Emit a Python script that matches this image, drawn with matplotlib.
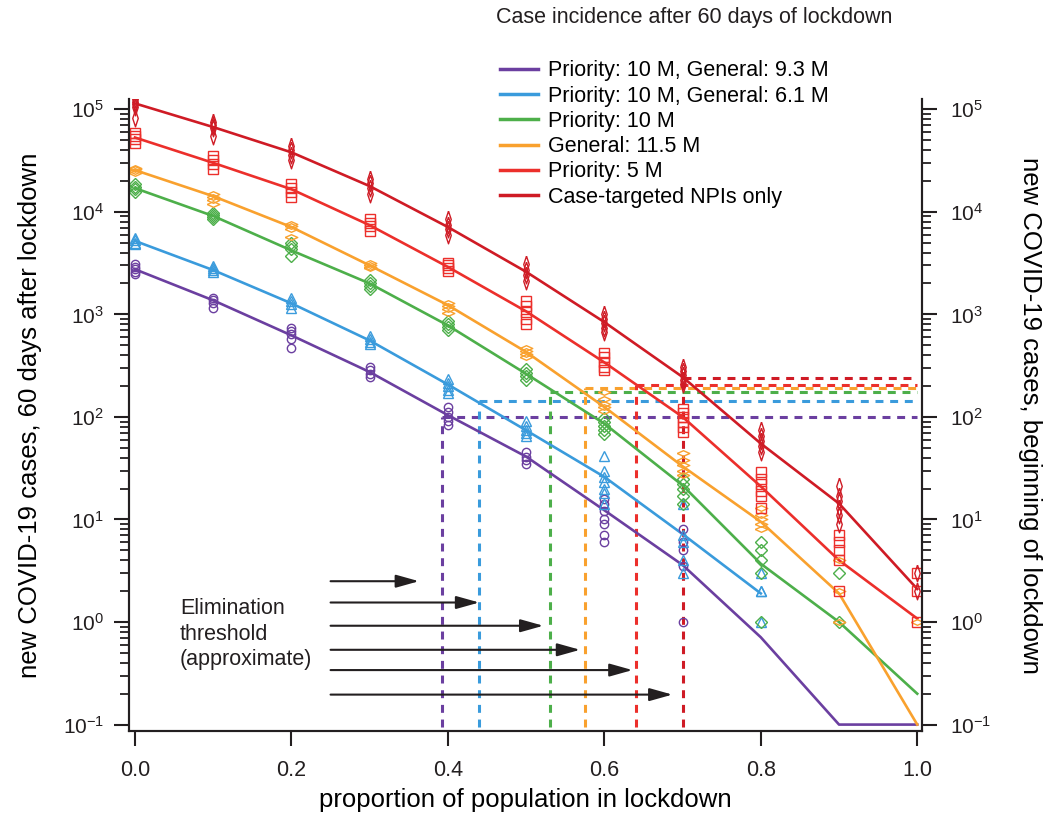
import numpy as np
import matplotlib
matplotlib.use("Agg")
import matplotlib.pyplot as plt
from matplotlib.lines import Line2D
from matplotlib.ticker import NullFormatter, FixedLocator

plt.rcParams["font.family"] = ["Liberation Sans", "DejaVu Sans"]
plt.rcParams["mathtext.fontset"] = "custom"
plt.rcParams["mathtext.rm"] = "Liberation Sans"
plt.rcParams["mathtext.it"] = "Liberation Sans:italic"
plt.rcParams["mathtext.bf"] = "Liberation Sans:bold"

# x positions (proportion in lockdown)
prop = [0.0, 0.1, 0.2, 0.3, 0.4, 0.5, 0.6, 0.7, 0.8, 0.9, 1.0]

labels = ["Priority: 10 M, General: 9.3 M", "Priority: 10 M, General: 6.1 M",
          "Priority: 10 M", "General: 11.5 M", "Priority: 5 M",
          "Case-targeted NPIs only"]

ytick_vals = [0.1, 1, 10, 100, 1000, 10000, 100000]
ytick_text = ["$10^{-1}$", "$10^{0}$", "$10^{1}$", "$10^{2}$", "$10^{3}$",
              "$10^{4}$", "$10^{5}$"]

# mean lines
purple_line = [2750, 1370, 624, 274, 104, 41, 12.3, 3.6, 0.71, 0.1, 0.1]
blue_line = [5200, 2700, 1280, 556, 207, 74, 26, 7.2, 1.9]
green_line = [17000, 9100, 4200, 2000, 780, 263, 86, 21.5, 3.7, 1.0, 0.2]
orange_line = [25500, 14200, 7100, 3000, 1230, 430, 125, 33, 9.5, 1.9, 0.1]
red_line = [53000, 30000, 16600, 7400, 2900, 1070, 340, 100, 21, 4.0, 1.08]
darkred_line = [114000, 67000, 38000, 17800, 7100, 2600, 840, 245, 55, 14.3, 2.1]

# individual runs at each proportion
purple_pts = [[3100, 2900, 2750, 2600, 2450], [1450, 1370, 1300, 1160],
              [740, 690, 640, 580, 470], [310, 285, 265, 245],
              [125, 112, 100, 92, 84], [45, 41, 38, 35],
              [16, 14, 12, 10, 9, 7, 6], [8, 6, 5, 3.5, 1], [], [], []]
blue_pts = [[5600, 5300, 5000, 4800], [2950, 2800, 2700, 2600],
            [1450, 1350, 1250, 1150], [610, 570, 540, 510],
            [235, 215, 200, 185, 170], [92, 82, 75, 70, 65],
            [42, 30, 26, 23, 20, 18, 14], [14, 7, 6, 4, 3], [3, 2, 2, 1], [], []]
green_pts = [[18500, 17500, 16500, 15500], [9800, 9300, 8800, 8500],
             [5000, 4600, 4300, 3700], [2150, 2000, 1900, 1750],
             [860, 800, 750, 700], [290, 270, 250, 230],
             [98, 90, 82, 75, 68], [25, 22, 20, 17, 14], [6, 5, 4, 3, 1],
             [3, 1], []]
orange_pts = [[27000, 26000, 25000, 24000], [15000, 14000, 13000, 12000],
              [7600, 7200, 6800, 5700], [3200, 3050, 2900, 2800],
              [1280, 1200, 1120, 1020], [470, 440, 410, 380],
              [175, 150, 135, 125, 115], [44, 38, 34, 30, 27],
              [13, 11, 10, 9, 8], [4, 2, 1], [1]]
red_pts = [[59000, 55000, 51000, 47000], [35000, 32000, 29000, 26000],
           [18500, 17000, 15500, 14000], [8500, 7800, 7200, 6500],
           [3200, 3000, 2800, 2650], [1350, 1200, 1050, 900, 800],
           [420, 380, 340, 310, 285], [120, 110, 100, 90, 80, 72],
           [29, 25, 22, 19, 17, 13], [7, 6, 5, 4, 2], [3, 2, 1]]
darkred_pts = [[125000, 118000, 112000, 106000, 83000], [75000, 70000, 65000, 55000],
               [44000, 40000, 36000, 32000], [21000, 19000, 17000, 15000],
               [8500, 7500, 6800, 6000], [3100, 2700, 2400, 2100],
               [1000, 900, 820, 740, 680], [310, 280, 255, 230, 210],
               [75, 65, 58, 52, 45], [21, 17, 15, 13, 11, 9], [3, 2]]

# elimination thresholds: proportion and case level
thresh_x = [0.393, 0.440, 0.530, 0.575, 0.640, 0.700]
thresh_y = [100, 144, 175, 192, 203, 239]
arrow_end = [0.363, 0.440, 0.522, 0.569, 0.636, 0.687]
arrow_y = [2.5, 1.55, 0.92, 0.536, 0.34, 0.196]

colors = ["#6b3fa0", "#3a9bdc", "#4daf4a", "#f9a12e", "#ec2f2b", "#cf1b25"]

wide_diamond = [(-1, 0), (0, 0.45), (1, 0), (0, -0.45), (-1, 0)]
thin_diamond = [(0, 1), (0.33, 0), (0, -1), (-0.33, 0), (0, 1)]
markers = ["o", "^", "D", wide_diamond, "s", thin_diamond]
msizes = [6, 6.5, 6, 9, 6.5, 12]

lines = [purple_line, blue_line, green_line, orange_line, red_line, darkred_line]
points = [purple_pts, blue_pts, green_pts, orange_pts, red_pts, darkred_pts]

fig = plt.figure(figsize=(10.46, 8.14), dpi=100)
ax = fig.add_axes([0.1233, 0.1016, 0.7584, 0.7764])
ax.set_yscale("log")
ylo, yhi = 0.086, 1.25e5
ax.set_ylim(ylo, yhi)
ax.set_xlim(-0.0077, 1.0064)

# threshold dashed lines
for tx, ty, c in zip(thresh_x, thresh_y, colors):
    ax.plot([tx, tx], [0.095, ty], color=c, lw=2.2, ls=(0, (2.6, 2.2)), zorder=1)
    ax.plot([tx, 1.0], [ty, ty], color=c, lw=2.2, ls=(0, (2.6, 2.2)), zorder=1)

# lines and individual points
for ln, pts, c, m, ms in zip(lines, points, colors, markers, msizes):
    ax.plot(prop[:len(ln)], ln, color=c, lw=1.9, zorder=3)
    xs, ys = [], []
    for xv, vals in zip(prop, pts):
        xs += [xv] * len(vals)
        ys += vals
    ax.plot(xs, ys, ls="none", marker=m, ms=ms, mfc="none", mec=c,
            mew=1.0, zorder=4)

# arrows
for xe, ya in zip(arrow_end, arrow_y):
    ax.annotate("", xy=(xe, ya), xytext=(0.25, ya),
                arrowprops=dict(arrowstyle="-|>,head_length=1.0,head_width=0.28",
                                mutation_scale=14, color="#231f20", lw=1.5,
                                shrinkA=0, shrinkB=0))
ax.text(0.0575, 0.76, "Elimination\nthreshold\n(approximate)", fontsize=15.5,
        va="center", ha="left", linespacing=1.28, color="#231f20")

ax.set_xticks([0.0, 0.2, 0.4, 0.6, 0.8, 1.0])
ax.set_xticklabels(["0.0", "0.2", "0.4", "0.6", "0.8", "1.0"])
ax.set_xlabel("proportion of population in lockdown", fontsize=18.5, va="center")
ax.xaxis.set_label_coords(0.5, -0.1087)
ax.set_ylabel("new COVID-19 cases, 60 days after lockdown", fontsize=18.5,
              va="center", ha="center")
ax.yaxis.set_label_coords(-0.1248, 0.5)

ax2 = ax.twinx()
ax2.set_yscale("log")
ax2.set_ylim(ylo, yhi)
ax2.set_ylabel("new COVID-19 cases, beginning of lockdown", fontsize=18.5,
               rotation=270, va="center", ha="center")
ax2.yaxis.set_label_coords(1.1358, 0.5)

minor_vals = [m * 10.0 ** e for e in range(-1, 5) for m in range(2, 10)]
for a in (ax, ax2):
    a.spines["top"].set_visible(False)
    for s in a.spines.values():
        s.set_linewidth(1.5)
        s.set_color("#231f20")
    a.set_yticks(ytick_vals)
    a.set_yticklabels(ytick_text)
    a.yaxis.set_minor_locator(FixedLocator([v for v in minor_vals if v < yhi]))
    a.yaxis.set_minor_formatter(NullFormatter())
    a.tick_params(which="major", direction="out", length=11, width=1.5,
                  labelsize=15, colors="#231f20")
    a.tick_params(which="minor", direction="out", length=6.5, width=1.3,
                  colors="#231f20")
    a.set_ylim(ylo, yhi)
ax.tick_params(axis="x", pad=10, labelsize=15.5)
ax.tick_params(axis="y", pad=7)
ax2.tick_params(axis="y", pad=9)

fig.text(496 / 1046, 1 - 18 / 814, "Case incidence after 60 days of lockdown",
         fontsize=15.5, va="center", ha="left", color="#231f20")
handles = [Line2D([0], [0], color=c, lw=2.5) for c in colors]
fig.legend(handles, labels, loc="upper left", bbox_to_anchor=(0.478, 0.926),
           frameon=False, fontsize=15.5, handlelength=1.77, handletextpad=0.47,
           labelspacing=0.2, borderpad=0, borderaxespad=0)

fig.savefig("out.png", dpi=100)
